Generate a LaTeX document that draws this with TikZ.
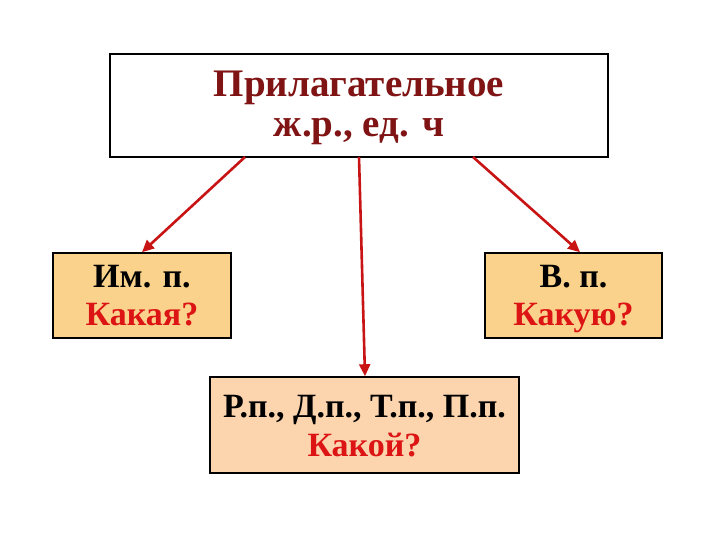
\documentclass[tikz,border=0pt]{standalone}
\usepackage{fontspec}
\setmainfont{Liberation Serif}
\usetikzlibrary{arrows.meta}
\definecolor{darkred}{RGB}{128,20,20}
\definecolor{qred}{RGB}{220,20,20}
\definecolor{arr}{RGB}{200,20,20}
\definecolor{sidefill}{RGB}{250,210,140}
\definecolor{botfill}{RGB}{252,213,175}
\newcommand{\tophi}[1]{\rule{0pt}{#1}}
\newcommand{\botlo}[1]{\rule[-#1]{0pt}{#1}}
\tikzset{
  box/.style={draw=black, line width=1.6pt, inner sep=0pt, align=center, font=\bfseries\fontsize{34}{38}\selectfont},
  conn/.style={draw=arr, line width=2.6pt, -{Triangle[length=12pt,width=11pt]}}
}
\begin{document}
\begin{tikzpicture}[x=1pt,y=-1pt]
\useasboundingbox (0,0) rectangle (720,540);
\node[box, fill=white, minimum width=498pt, minimum height=103pt, font=\bfseries\fontsize{39}{40}\selectfont, text=darkred] (top) at (359,105.5) {\tophi{33pt}Прилагательное\\ж.р., ед. ч\botlo{10pt}};
\node[box, fill=sidefill, minimum width=178pt, minimum height=85pt] (left) at (142,295.5) {\tophi{32pt}Им. п.\\\textcolor{qred}{Какая?}\botlo{11pt}};
\node[box, fill=sidefill, minimum width=177pt, minimum height=85pt] (right) at (573.5,295.5) {\tophi{32pt}В. п.\\\textcolor{qred}{Какую?}\botlo{11pt}};
\node[box, fill=botfill, minimum width=309pt, minimum height=96pt, font=\bfseries\fontsize{34}{39}\selectfont] (bot) at (364.5,425) {\tophi{33pt}Р.п., Д.п., Т.п., П.п.\\\textcolor{qred}{Какой?}\botlo{10pt}};
\coordinate (a1) at (245,157);
\coordinate (a2) at (359,157);
\coordinate (a3) at (473,157);
\draw[conn] (a1) -- (left.north -| 142,0) ;
\draw[conn] (a2) -- (bot.north -| 365,0);
\draw[conn] (a3) -- (right.north -| 580,0);
\end{tikzpicture}
\end{document}
